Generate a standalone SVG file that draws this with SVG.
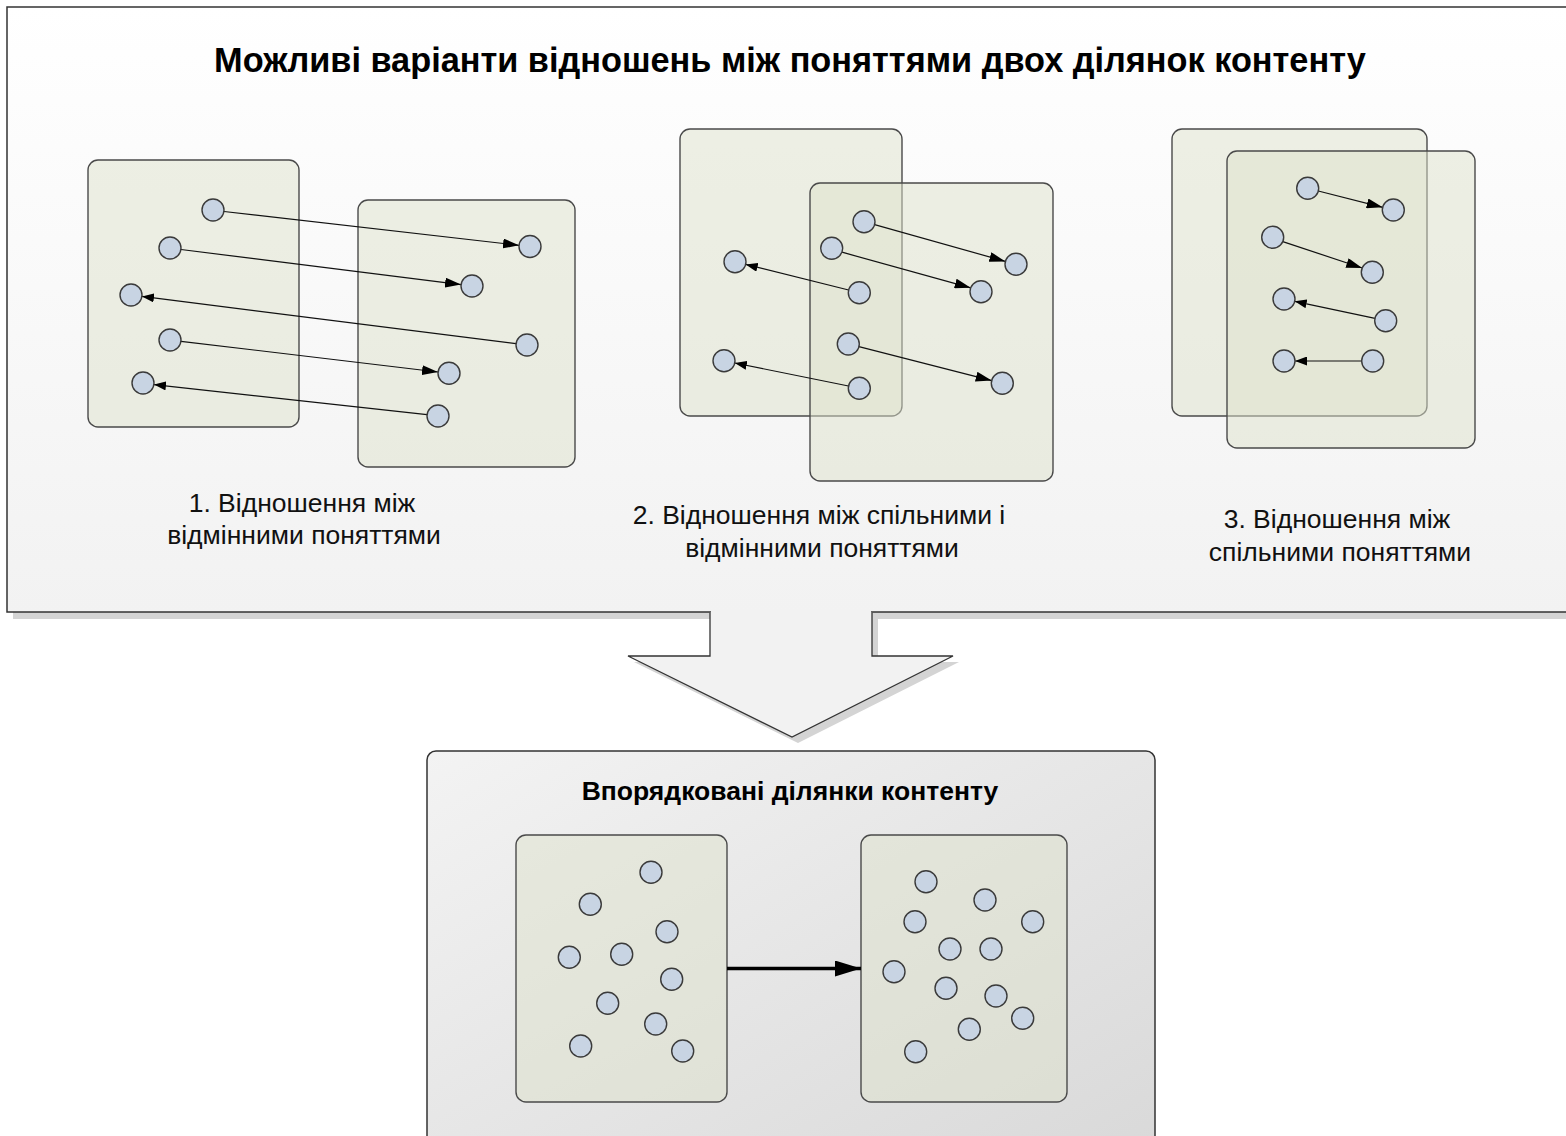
<svg xmlns="http://www.w3.org/2000/svg" width="1566" height="1136" viewBox="0 0 1566 1136">
  <defs>
    <linearGradient id="topFill" x1="0" y1="0" x2="0" y2="1">
      <stop offset="0" stop-color="#ffffff"/>
      <stop offset="1" stop-color="#f2f2f2"/>
    </linearGradient>
    <linearGradient id="bottomFill" x1="0" y1="0" x2="1" y2="1">
      <stop offset="0" stop-color="#f3f3f3"/>
      <stop offset="1" stop-color="#d9d9d9"/>
    </linearGradient>
    <marker id="headL" viewBox="0 0 16 10" refX="16" refY="5" markerWidth="16" markerHeight="10" markerUnits="userSpaceOnUse" orient="auto">
      <path d="M0,0 L16,5 L0,10 Z" fill="#000"/>
    </marker>
    <marker id="headS" viewBox="0 0 12 9" refX="12" refY="4.5" markerWidth="12" markerHeight="9" markerUnits="userSpaceOnUse" orient="auto">
      <path d="M0,0 L12,4.5 L0,9 Z" fill="#000"/>
    </marker>
    <marker id="headBig" viewBox="0 0 26 16" refX="26" refY="8" markerWidth="26" markerHeight="16" markerUnits="userSpaceOnUse" orient="auto">
      <path d="M0,0 L26,8 L0,16 Z" fill="#000"/>
    </marker>
  </defs>
  <style>
    .panel { stroke: #333; stroke-width: 1.5; }
    .shadow { fill: #d4d4d4; }
    .area { fill: #dde1cc; fill-opacity: 0.5; stroke: #4a4a4a; stroke-width: 1.4; }
    .node { fill: #c8d4e3; stroke: #3a3a3a; stroke-width: 1.4; }
    .link { stroke: #111; stroke-width: 1.2; fill: none; }
    .big { stroke: #000; stroke-width: 3.5; fill: none; }
    .title { font-family: "Liberation Sans", Arial, sans-serif; font-weight: bold; fill: #000; text-anchor: middle; }
    .cap { font-family: "Liberation Sans", Arial, sans-serif; font-size: 26.5px; fill: #111; text-anchor: middle; }
  </style>

  <rect width="1566" height="1136" fill="#ffffff"/>

  <!-- upper panel with its drop shadow -->
  <g id="panel-variants">
    <rect class="shadow" x="13" y="13" width="1560" height="606"/>
    <rect class="panel" x="7" y="7" width="1570" height="605" fill="url(#topFill)"/>
    <text class="title" x="790" y="72" font-size="34.3">Можливі варіанти відношень між поняттями двох ділянок контенту</text>
  </g>

  <!-- broad downward arrow between the panels -->
  <g id="transition-arrow">
    <path class="shadow" d="M716,618 L878,618 L878,662 L959,662 L798,743 L634,662 L716,662 Z"/>
    <rect x="711" y="610" width="160" height="6" fill="#f2f2f2"/>
    <path d="M710,612.8 L710,656 L628,656 L792,737 L953,656 L872,656 L872,612.8" fill="#f2f2f2" stroke="#333" stroke-width="1.3" stroke-linejoin="miter"/>
  </g>

  <!-- variant 1: two separate areas -->
  <g id="variant-1">
    <rect class="area" x="88" y="160" width="211" height="267" rx="10"/>
    <rect class="area" x="358" y="200" width="217" height="267" rx="10"/>
    <g class="links">
      <line class="link" x1="224" y1="211.5" x2="519" y2="245.3" marker-end="url(#headL)"/>
      <line class="link" x1="181" y1="249.5" x2="461" y2="284.6" marker-end="url(#headL)"/>
      <line class="link" x1="516" y1="343.6" x2="142" y2="296.4" marker-end="url(#headS)"/>
      <line class="link" x1="181" y1="341.3" x2="438" y2="372" marker-end="url(#headL)"/>
      <line class="link" x1="427" y1="414.7" x2="154" y2="384.6" marker-end="url(#headS)"/>
    </g>
    <circle class="node" cx="213" cy="210" r="11"/>
    <circle class="node" cx="170" cy="248" r="11"/>
    <circle class="node" cx="131" cy="295" r="11"/>
    <circle class="node" cx="170" cy="340" r="11"/>
    <circle class="node" cx="143" cy="383" r="11"/>
    <circle class="node" cx="530" cy="246.5" r="11"/>
    <circle class="node" cx="472" cy="286" r="11"/>
    <circle class="node" cx="527" cy="345" r="11"/>
    <circle class="node" cx="449" cy="373.3" r="11"/>
    <circle class="node" cx="438" cy="416" r="11"/>
    <text class="cap" x="302" y="512">1. Відношення між</text>
    <text class="cap" x="304" y="544">відмінними поняттями</text>
  </g>

  <!-- variant 2: partly overlapping areas -->
  <g id="variant-2">
    <rect class="area" x="680" y="129" width="222" height="287" rx="10"/>
    <rect class="area" x="810" y="183" width="243" height="298" rx="10"/>
    <g class="links">
      <line class="link" x1="874.6" y1="224.6" x2="1005.4" y2="261.4" marker-end="url(#headL)"/>
      <line class="link" x1="842" y1="252.2" x2="970.7" y2="287.8" marker-end="url(#headL)"/>
      <line class="link" x1="848.6" y1="290" x2="745.7" y2="264.4" marker-end="url(#headS)"/>
      <line class="link" x1="858.9" y1="346.7" x2="991.7" y2="380.6" marker-end="url(#headL)"/>
      <line class="link" x1="848.5" y1="386" x2="734.8" y2="363" marker-end="url(#headS)"/>
    </g>
    <circle class="node" cx="864" cy="221.7" r="11"/>
    <circle class="node" cx="831.7" cy="248.3" r="11"/>
    <circle class="node" cx="859.3" cy="292.7" r="11"/>
    <circle class="node" cx="848.3" cy="344" r="11"/>
    <circle class="node" cx="859.3" cy="388.3" r="11"/>
    <circle class="node" cx="735" cy="261.7" r="11"/>
    <circle class="node" cx="724" cy="360.7" r="11"/>
    <circle class="node" cx="1016" cy="264.3" r="11"/>
    <circle class="node" cx="981" cy="291.7" r="11"/>
    <circle class="node" cx="1002.3" cy="383.3" r="11"/>
    <text class="cap" x="819" y="524">2. Відношення між спільними і</text>
    <text class="cap" x="822" y="557">відмінними поняттями</text>
  </g>

  <!-- variant 3: nearly coinciding areas -->
  <g id="variant-3">
    <rect class="area" x="1172" y="129" width="255" height="287" rx="10"/>
    <rect class="area" x="1227" y="151" width="248" height="297" rx="10"/>
    <g class="links">
      <line class="link" x1="1318.3" y1="191" x2="1382.7" y2="207.3" marker-end="url(#headL)"/>
      <line class="link" x1="1282.8" y1="241.6" x2="1362.2" y2="268" marker-end="url(#headL)"/>
      <line class="link" x1="1375" y1="318.4" x2="1294.7" y2="301.3" marker-end="url(#headS)"/>
      <line class="link" x1="1362" y1="361" x2="1295" y2="361" marker-end="url(#headS)"/>
    </g>
    <circle class="node" cx="1307.7" cy="188.3" r="11"/>
    <circle class="node" cx="1393.3" cy="210" r="11"/>
    <circle class="node" cx="1272.7" cy="237.3" r="11"/>
    <circle class="node" cx="1372.3" cy="272.3" r="11"/>
    <circle class="node" cx="1284" cy="299" r="11"/>
    <circle class="node" cx="1385.7" cy="320.7" r="11"/>
    <circle class="node" cx="1284" cy="361" r="11"/>
    <circle class="node" cx="1372.7" cy="361" r="11"/>
    <text class="cap" x="1337" y="528">3. Відношення між</text>
    <text class="cap" x="1340" y="561">спільними поняттями</text>
  </g>

  <!-- lower panel: ordered content areas -->
  <g id="panel-ordered">
    <rect class="panel" x="427" y="751" width="728" height="400" rx="9" fill="url(#bottomFill)" stroke-width="1.3"/>
    <text class="title" x="790" y="800" font-size="26.5">Впорядковані ділянки контенту</text>
  </g>

  <g id="ordered-source">
    <rect class="area" x="516" y="835" width="211" height="267" rx="10"/>
    <circle class="node" cx="651" cy="872.3" r="11"/>
    <circle class="node" cx="590.3" cy="904.3" r="11"/>
    <circle class="node" cx="667" cy="931.7" r="11"/>
    <circle class="node" cx="569.3" cy="957.3" r="11"/>
    <circle class="node" cx="621.7" cy="954.3" r="11"/>
    <circle class="node" cx="671.7" cy="979.3" r="11"/>
    <circle class="node" cx="607.7" cy="1003.3" r="11"/>
    <circle class="node" cx="655.7" cy="1024" r="11"/>
    <circle class="node" cx="580.7" cy="1046" r="11"/>
    <circle class="node" cx="682.7" cy="1051" r="11"/>
  </g>

  <g id="ordered-target">
    <rect class="area" x="861" y="835" width="206" height="267" rx="10"/>
    <circle class="node" cx="926" cy="881.7" r="11"/>
    <circle class="node" cx="985" cy="900" r="11"/>
    <circle class="node" cx="915" cy="921.7" r="11"/>
    <circle class="node" cx="1032.7" cy="921.7" r="11"/>
    <circle class="node" cx="950" cy="949" r="11"/>
    <circle class="node" cx="991" cy="949" r="11"/>
    <circle class="node" cx="894" cy="971.7" r="11"/>
    <circle class="node" cx="946" cy="988.3" r="11"/>
    <circle class="node" cx="996" cy="996" r="11"/>
    <circle class="node" cx="1022.7" cy="1018.3" r="11"/>
    <circle class="node" cx="969.3" cy="1029.3" r="11"/>
    <circle class="node" cx="915.7" cy="1051.7" r="11"/>
  </g>

  <g id="connectors">
    <line class="big" x1="727" y1="968.5" x2="861" y2="968.5" marker-end="url(#headBig)"/>
  </g>
</svg>
